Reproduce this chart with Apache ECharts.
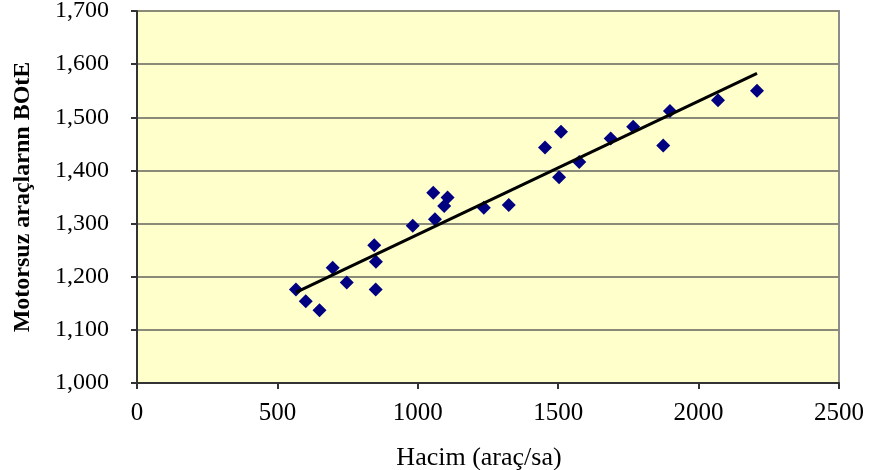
<!DOCTYPE html>
<html>
<head>
<meta charset="utf-8">
<script src="https://cdn.jsdelivr.net/npm/echarts@6/dist/echarts.min.js"></script>
<style>html,body{margin:0;padding:0;background:#fff}#c{width:879px;height:470px}</style>
</head>
<body>
<div id="c"></div>
<script>
var volume = [566, 601, 650, 697, 747, 845, 851, 850, 982, 1055, 1061, 1106, 1094, 1235, 1324, 1453, 1510, 1503, 1575, 1687, 1767, 1874, 1898, 2069, 2208];
var bote   = [1176, 1154, 1137, 1217, 1189, 1259, 1228, 1176, 1296, 1358, 1308, 1349, 1333, 1330, 1335, 1443, 1473, 1387, 1416, 1460, 1482, 1447, 1512, 1532, 1550];
var xTicks = [0, 500, 1000, 1500, 2000, 2500];
var yTicks = [1000, 1100, 1200, 1300, 1400, 1500, 1600, 1700];

// least-squares trend line
var n = volume.length, sx = 0, sy = 0, sxx = 0, sxy = 0;
for (var i = 0; i < n; i++) { sx += volume[i]; sy += bote[i]; sxx += volume[i]*volume[i]; sxy += volume[i]*bote[i]; }
var slope = (n*sxy - sx*sy) / (n*sxx - sx*sx);
var intercept = (sy - slope*sx) / n;
var xMin = Math.min.apply(null, volume), xMax = Math.max.apply(null, volume);
var trend = [[xMin, intercept + slope*xMin], [xMax, intercept + slope*xMax]];

var pts = volume.map(function (v, i) { return [v, bote[i]]; });
var font = '"Liberation Serif", "Times New Roman", serif';

var chart = echarts.init(document.getElementById('c'));
chart.setOption({
  animation: false,
  grid: { left: 137, right: 40, top: 11, bottom: 87, show: true, backgroundColor: '#FFFFCC', borderColor: '#8c8c8c', borderWidth: 2, containLabel: false, outerBoundsMode: 'none' },
  xAxis: {
    type: 'value', min: xTicks[0], max: xTicks[xTicks.length-1], interval: 500,
    name: 'Hacim (araç/sa)', nameLocation: 'middle', nameGap: 62,
    nameTextStyle: { fontFamily: font, fontSize: 26, color: '#000', padding: [0, 18, 0, 0] },
    axisLine: { show: true, onZero: false, lineStyle: { color: '#333', width: 2 } },
    axisTick: { show: true, inside: false, length: 6, lineStyle: { color: '#333', width: 2 } },
    axisLabel: { fontFamily: font, fontSize: 25, color: '#000', margin: 18,
      formatter: function (v) { return String(v); } },
    splitLine: { show: false }
  },
  yAxis: {
    type: 'value', min: yTicks[0], max: yTicks[yTicks.length-1], interval: 100,
    name: 'Motorsuz araçlarnn BOtE', nameLocation: 'middle', nameGap: 102, nameRotate: 90,
    nameTextStyle: { fontFamily: font, fontSize: 24, fontWeight: 'bold', color: '#000' },
    axisLine: { show: true, onZero: false, lineStyle: { color: '#333', width: 2 } },
    axisTick: { show: true, inside: false, length: 6, lineStyle: { color: '#333', width: 2 } },
    axisLabel: { fontFamily: font, fontSize: 24, color: '#000', margin: 28,
      formatter: function (v) { return v.toLocaleString('en-US'); } },
    splitLine: { show: true, lineStyle: { color: '#8a8a78', width: 2 } }
  },
  series: [
    { type: 'scatter', data: pts, symbol: 'diamond', symbolSize: [14, 14], itemStyle: { color: '#000080', opacity: 1 }, z: 3 },
    { type: 'line', data: trend, symbol: 'none', lineStyle: { color: '#000', width: 3 }, z: 4 }
  ]
});
</script>
</body>
</html>
